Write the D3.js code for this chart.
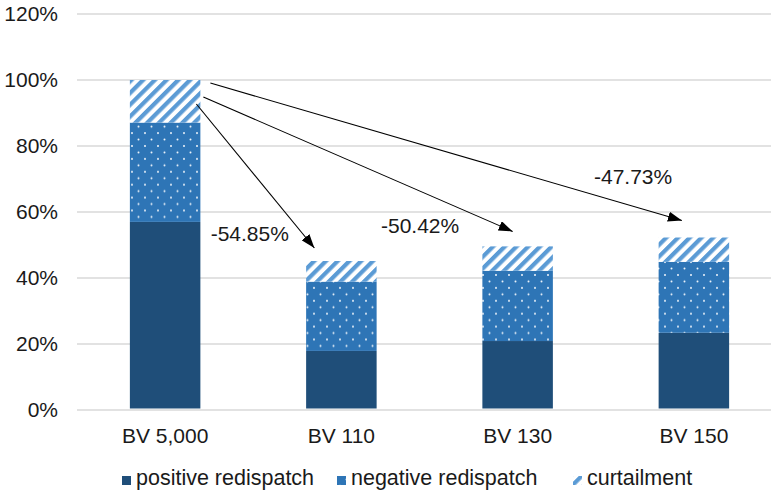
<!DOCTYPE html>
<html>
<head>
<meta charset="utf-8">
<script src="https://cdn.jsdelivr.net/npm/d3@7"></script>
<style>
  body { margin: 0; background: #fff; }
  text { font-family: Arial, "Liberation Sans", sans-serif; fill: #1a1a1a; }
</style>
</head>
<body>
<script>
// data
const categories = ["BV 5,000", "BV 110", "BV 130", "BV 150"];
const positive = [57.0, 17.9, 20.9, 23.4];
const negative = [30.1, 21.0, 21.3, 21.5];
const curtailment = [12.9, 6.25, 7.38, 7.37];
const yTicks = [0, 20, 40, 60, 80, 100, 120];
const seriesNames = ["positive redispatch", "negative redispatch", "curtailment"];
const arrowTargets = ["BV 110", "BV 130", "BV 150"];
const changeLabels = ["-54.85%", "-50.42%", "-47.73%"];

const W = 783, H = 490;
const margin = {top: 14, right: 0, bottom: 80, left: 77};

const svg = d3.select("body").append("svg")
    .attr("width", W)
    .attr("height", H);

const defs = svg.append("defs");

// white dots on mid blue
const dots = defs.append("pattern")
    .attr("id", "dots")
    .attr("patternUnits", "userSpaceOnUse")
    .attr("width", 13).attr("height", 12.9);
dots.append("rect").attr("width", 13).attr("height", 12.9).attr("fill", "#2E75B6");
dots.append("circle").attr("cx", 3).attr("cy", 3).attr("r", 1).attr("fill", "#f2f7fc");
dots.append("circle").attr("cx", 9.5).attr("cy", 9.45).attr("r", 1).attr("fill", "#f2f7fc");

// upward diagonal hatch
const hatch = defs.append("pattern")
    .attr("id", "hatch")
    .attr("patternUnits", "userSpaceOnUse")
    .attr("width", 8.3).attr("height", 8.3)
    .attr("patternTransform", "rotate(45)");
hatch.append("rect").attr("width", 8.3).attr("height", 8.3).attr("fill", "#fff");
hatch.append("rect").attr("width", 4.2).attr("height", 8.3).attr("fill", "#5B9BD5");

defs.append("marker")
    .attr("id", "head")
    .attr("viewBox", "0 0 14 10")
    .attr("refX", 14).attr("refY", 5)
    .attr("markerWidth", 14).attr("markerHeight", 10)
    .attr("markerUnits", "userSpaceOnUse")
    .attr("orient", "auto")
  .append("path")
    .attr("d", "M0,0L14,5L0,10Z")
    .attr("fill", "#000");

const g = svg.append("g")
    .attr("transform", "translate(" + margin.left + "," + margin.top + ")");

const width = W - margin.left - margin.right,
    height = H - margin.top - margin.bottom;

const x = d3.scaleBand().domain(categories).range([0, 705]).paddingInner(0.6).paddingOuter(0.3);
const y = d3.scaleLinear().domain([0, 120]).range([height, 0]);

// gridlines
g.append("g")
  .selectAll("line")
  .data(yTicks)
  .join("line")
    .attr("x1", 0).attr("x2", 694)
    .attr("y1", d => y(d)).attr("y2", d => y(d))
    .attr("stroke", "#d9d9d9")
    .attr("stroke-width", 1.3);

// y labels
g.append("g")
  .selectAll("text")
  .data(yTicks)
  .join("text")
    .attr("x", -19)
    .attr("y", d => y(d))
    .attr("dy", "0.35em")
    .attr("text-anchor", "end")
    .style("font-size", "21px")
    .text(d => d + "%");

// stacked bars
const rows = categories.map((c, i) => ({cat: c, pos: positive[i], neg: negative[i], cur: curtailment[i]}));
const stack = d3.stack().keys(["pos", "neg", "cur"])(rows);
const fills = ["#1F4E79", "url(#dots)", "url(#hatch)"];

g.selectAll("g.layer")
  .data(stack)
  .join("g")
    .attr("class", "layer")
    .attr("fill", (d, i) => fills[i])
  .selectAll("rect")
  .data(d => d)
  .join("rect")
    .attr("x", d => x(d.data.cat))
    .attr("width", x.bandwidth())
    .attr("y", d => y(d[1]))
    .attr("height", d => y(d[0]) - y(d[1]) - (d[0] === 0 ? 1.5 : 0));

// category labels
g.append("g")
  .selectAll("text")
  .data(categories)
  .join("text")
    .attr("x", d => x(d) + x.bandwidth() / 2)
    .attr("y", height + 33)
    .attr("text-anchor", "middle")
    .style("font-size", "21px")
    .text(d => d);

// arrows from first bar to the others
const totals = categories.map((c, i) => positive[i] + negative[i] + curtailment[i]);
const startDx = [-4, 3, 10], startDy = [24, 17, 3];
const tipDx = [-27, -5, -12], tipDy = [13, 15, 17];
const x0 = x(categories[0]) + x.bandwidth();

g.append("g")
  .selectAll("line")
  .data(arrowTargets)
  .join("line")
    .attr("x1", (d, i) => x0 + startDx[i])
    .attr("y1", (d, i) => y(totals[0]) + startDy[i])
    .attr("x2", (d, i) => x(d) + x.bandwidth() / 2 + tipDx[i])
    .attr("y2", (d, i) => y(totals[categories.indexOf(d)]) - tipDy[i])
    .attr("stroke", "#000")
    .attr("stroke-width", 1.1)
    .attr("marker-end", "url(#head)");

const labelPos = [[133.7, 240.5], [304, 232.5], [517, 184]];
g.append("g")
  .selectAll("text")
  .data(changeLabels)
  .join("text")
    .attr("x", (d, i) => labelPos[i][0])
    .attr("y", (d, i) => labelPos[i][1] - margin.top)
    .style("font-size", "21px")
    .text(d => d);

// legend
const legX = [122, 337, 573];
const leg = svg.append("g")
  .selectAll("g")
  .data(seriesNames)
  .join("g")
    .attr("transform", (d, i) => "translate(" + legX[i] + ",470)");
leg.append("rect")
    .attr("width", 9).attr("height", 9).attr("y", 6)
    .attr("fill", (d, i) => fills[i]);
leg.append("text")
    .attr("x", 14)
    .attr("y", 15)
    .style("font-size", "21.5px")
    .text(d => d);
</script>
</body>
</html>
